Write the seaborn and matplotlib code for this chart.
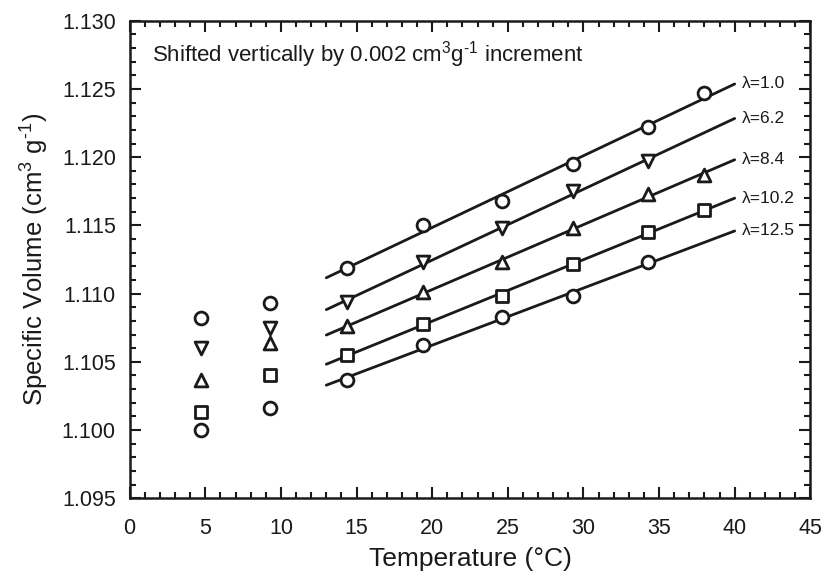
import numpy as np
import pandas as pd
import seaborn as sns
import matplotlib
matplotlib.use("Agg")
import matplotlib.pyplot as plt
from matplotlib.ticker import MultipleLocator, FormatStrFormatter

# Draw ratios and the markers used for each series
draw_ratios = ["1.0", "6.2", "8.4", "10.2", "12.5"]
markers = ["o", "v", "^", "s", "o"]

# Low-temperature measurements (not used in the linear fits)
low_temps = [4.7, 9.3]
low_vol = {
    "1.0": [1.1082, 1.1093],
    "6.2": [1.1060, 1.1075],
    "8.4": [1.1037, 1.1064],
    "10.2": [1.1013, 1.1040],
    "12.5": [1.1000, 1.1016],
}

# Measurements above 14 °C (fitted with straight lines)
high_temps = [14.4, 19.4, 24.6, 29.3, 34.3, 38.0]
high_vol = {
    "1.0": [1.1119, 1.1150, 1.1168, 1.1195, 1.1222, 1.1247],
    "6.2": [1.1094, 1.1123, 1.1148, 1.1175, 1.1197],
    "8.4": [1.1076, 1.1101, 1.1123, 1.1148, 1.1173, 1.1187],
    "10.2": [1.1055, 1.1078, 1.1098, 1.1122, 1.1145, 1.1161],
    "12.5": [1.1037, 1.1062, 1.1083, 1.1098, 1.1123],
}

x_ticks = [0, 5, 10, 15, 20, 25, 30, 35, 40, 45]
y_ticks = [1.095, 1.100, 1.105, 1.110, 1.115, 1.120, 1.125, 1.130]
fit_range = (13.0, 40.0)

sns.set_theme(style="ticks")
plt.rcParams["font.family"] = ["Liberation Sans", "DejaVu Sans"]
plt.rcParams["mathtext.fontset"] = "custom"
plt.rcParams["mathtext.rm"] = "Liberation Sans"
plt.rcParams["mathtext.it"] = "Liberation Sans"

ink = "#1a1a1a"
fig = plt.figure(figsize=(8.26, 5.76), dpi=100)
ax = fig.add_axes([0.157, 0.135, 0.824, 0.829])

for lam, mk in zip(draw_ratios, markers):
    xs = high_temps[: len(high_vol[lam])]
    ys = high_vol[lam]
    slope, icpt = np.polyfit(xs, ys, 1)
    xf = np.array(fit_range)
    line_df = pd.DataFrame({"T": xf, "V": slope * xf + icpt})
    sns.lineplot(data=line_df, x="T", y="V", ax=ax, color=ink,
                 linewidth=2.0, zorder=2)
    pts = pd.DataFrame({"T": low_temps + xs, "V": low_vol[lam] + ys})
    sns.scatterplot(data=pts, x="T", y="V", ax=ax, marker=mk, s=85,
                    facecolor="white", edgecolor=ink, linewidth=2.0,
                    zorder=3)
    ax.text(fit_range[1] + 0.5, slope * fit_range[1] + icpt,
            "\u03bb=" + lam, fontsize=12.5, ha="left", va="center",
            color=ink)

ax.text(1.5, 1.1275,
        r"Shifted vertically by 0.002 cm$^{3}$g$^{\text{-1}}$ increment",
        fontsize=16, ha="left", va="center", color=ink)

ax.set_xlim(0, 45)
ax.set_ylim(1.095, 1.130)
ax.set_xticks(x_ticks)
ax.set_yticks(y_ticks)
ax.yaxis.set_major_formatter(FormatStrFormatter("%.3f"))
ax.xaxis.set_minor_locator(MultipleLocator(1))
ax.yaxis.set_minor_locator(MultipleLocator(0.001))
ax.tick_params(which="both", direction="in", top=True, right=True,
               labelsize=15.5, colors=ink, width=1.5)
ax.tick_params(which="major", length=8)
ax.tick_params(which="minor", length=4.5)
ax.tick_params(axis="x", pad=14)
ax.tick_params(axis="y", pad=10)
for s in ax.spines.values():
    s.set_linewidth(1.8)
    s.set_color(ink)

ax.set_xlabel("Temperature (\u00b0C)", fontsize=19, labelpad=6, color=ink)
ax.set_ylabel(r"Specific Volume (cm$^{3}$ g$^{\text{-1}}$)", fontsize=18.5,
              labelpad=8, color=ink)

fig.savefig("out.png", dpi=100)
